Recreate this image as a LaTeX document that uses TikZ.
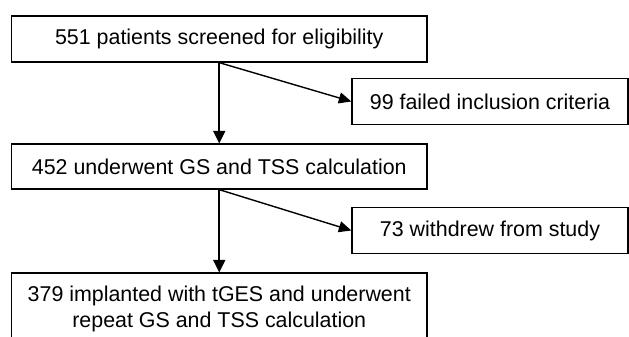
\documentclass[tikz,border=0pt]{standalone}
\usepackage{fontspec}
\setmainfont{Liberation Sans}
\usetikzlibrary{arrows.meta}
\tikzset{
    box/.style={draw, line width=1.3pt, inner sep=0pt, minimum height=46pt, align=center, font=\fontsize{21.4}{26}\selectfont},
    widebox/.style={box, minimum width=415.5pt},
    sidebox/.style={box, minimum width=276pt},
    down/.style={line width=2pt, -{Triangle[length=12.5pt,width=12pt]}},
    aside/.style={line width=1.4pt, -{Triangle[length=12.5pt,width=11pt]}}
}
\begin{document}
\begin{tikzpicture}[x=1pt, y=-1pt]
    \clip (0, 0) rectangle (629, 337);
    \node[widebox] (screened) at (219.25, 39) {551 patients screened for eligibility};
    \node[sidebox] (failed) at (490, 101.5) {99 failed inclusion criteria};
    \node[widebox, minimum height=45pt] (calc) at (219.25, 166.5) {452 underwent GS and TSS calculation};
    \node[sidebox] (withdrew) at (490, 230.5) {73 withdrew from study};
    \node[widebox, minimum height=72pt] (implanted) at (219.25, 309) {379 implanted with tGES and underwent\\repeat GS and TSS calculation};
    \draw[down] (screened.south) -- (calc.north);
    \draw[aside] (screened.south) -- (failed.west);
    \draw[down] (calc.south) -- (implanted.north);
    \draw[aside] (calc.south) -- (withdrew.west);
\end{tikzpicture}
\end{document}
